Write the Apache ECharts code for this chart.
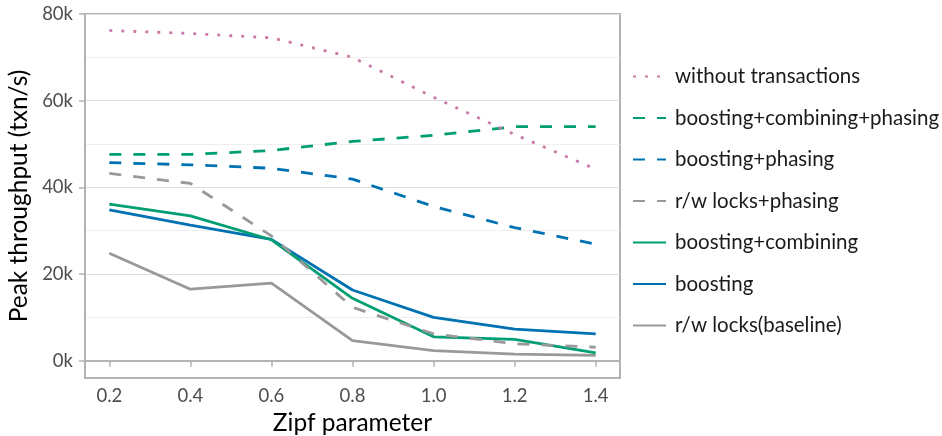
<!DOCTYPE html>
<html><head><meta charset="utf-8">
<script src="https://cdn.jsdelivr.net/npm/echarts@6/dist/echarts.min.js"></script>
<style>html,body{margin:0;padding:0;background:#fff}#c{width:942px;height:436px}</style>
</head><body><div id="c"></div>
<script>
const zipf = [0.2, 0.4, 0.6, 0.8, 1.0, 1.2, 1.4];
const xTicks = [0.2, 0.4, 0.6, 0.8, 1.0, 1.2, 1.4];
const yTicks = [0, 20000, 40000, 60000, 80000];
const yMinor = [10000, 30000, 50000, 70000];
const seriesNames = ['without transactions','boosting+combining+phasing','boosting+phasing','r/w locks+phasing','boosting+combining','boosting','r/w locks(baseline)'];
const withoutTx = [76200, 75500, 74500, 70000, 60800, 52200, 44200];
const boostCombPhase = [47600, 47600, 48500, 50600, 52000, 54000, 54000];
const boostPhase = [45700, 45200, 44400, 41900, 35600, 30700, 26900];
const rwPhase = [43200, 40900, 28800, 12300, 6200, 3900, 3100];
const boostComb = [36100, 33400, 27900, 14400, 5500, 4900, 1800];
const boosting = [34800, 31300, 28000, 16300, 10000, 7300, 6200];
const rwBaseline = [24800, 16500, 17900, 4600, 2300, 1500, 1200];

const values = [withoutTx, boostCombPhase, boostPhase, rwPhase, boostComb, boosting, rwBaseline];
const colors = ['#CC79A7','#009E73','#0072B2','#999999','#009E73','#0072B2','#999999'];
const dashes = [[3,9],[12,12],[12,12],[12,12],'solid','solid','solid'];

const FONT = 'Lato';
const chart = echarts.init(document.getElementById('c'), null, {renderer:'canvas'});
chart.setOption({
  animation:false,
  textStyle:{fontFamily:FONT},
  grid:{left:85, right:322, top:14, bottom:58, show:true, borderColor:'#b3b3b3', borderWidth:2, containLabel:false, outerBoundsMode:'none'},
  legend:{
    orient:'vertical', left:632, top:66, padding:0, itemWidth:33, itemHeight:14, itemGap:20.5,
    data:seriesNames,
    itemStyle:{opacity:0},
    textStyle:{fontFamily:FONT, fontSize:20.5, color:'#1a1a1a', padding:[0,0,0,4]}
  },
  xAxis:{
    type:'value', min:0.14, max:1.46,
    name:'Zipf parameter', nameLocation:'middle', nameGap:29,
    nameTextStyle:{fontFamily:FONT, fontSize:24.5, color:'#000'},
    axisLine:{show:true, lineStyle:{color:'#b3b3b3', width:2}},
    axisTick:{show:true, customValues:xTicks, length:6, lineStyle:{color:'#b3b3b3', width:1.5}},
    axisLabel:{customValues:xTicks, formatter:v=>v.toFixed(1), fontFamily:FONT, fontSize:18.5, color:'#4d4d4d', margin:9},
    splitLine:{show:false}
  },
  yAxis:[{
    type:'value', min:-4000, max:80000,
    name:'Peak throughput (txn/s)', nameLocation:'middle', nameGap:50,
    nameTextStyle:{fontFamily:FONT, fontSize:24.5, color:'#000'},
    axisLine:{show:true, lineStyle:{color:'#b3b3b3', width:2}},
    axisTick:{show:true, customValues:yTicks, length:6, lineStyle:{color:'#b3b3b3', width:1.5}},
    axisLabel:{customValues:yTicks, formatter:v=>(v/1000)+'k', fontFamily:FONT, fontSize:18.5, color:'#4d4d4d', margin:12},
    splitLine:{show:true, lineStyle:{color:'#dedede', width:1}}
  },{
    type:'value', min:-4000, max:80000, position:'left',
    axisLine:{show:false}, axisLabel:{show:false},
    axisTick:{show:false, customValues:yMinor},
    splitLine:{show:true, lineStyle:{color:'#eeeeee', width:1}}
  }],
  series: seriesNames.map((n,i)=>({
    name:n, type:'line', symbol:'none', showSymbol:false, yAxisIndex:0,
    data: zipf.map((x,j)=>[x, values[i][j]]),
    lineStyle:{color:colors[i], width:2.8, type:dashes[i], cap:'butt'},
    itemStyle:{color:colors[i]},
    z: 10 - i
  }))
});
</script></body></html>
